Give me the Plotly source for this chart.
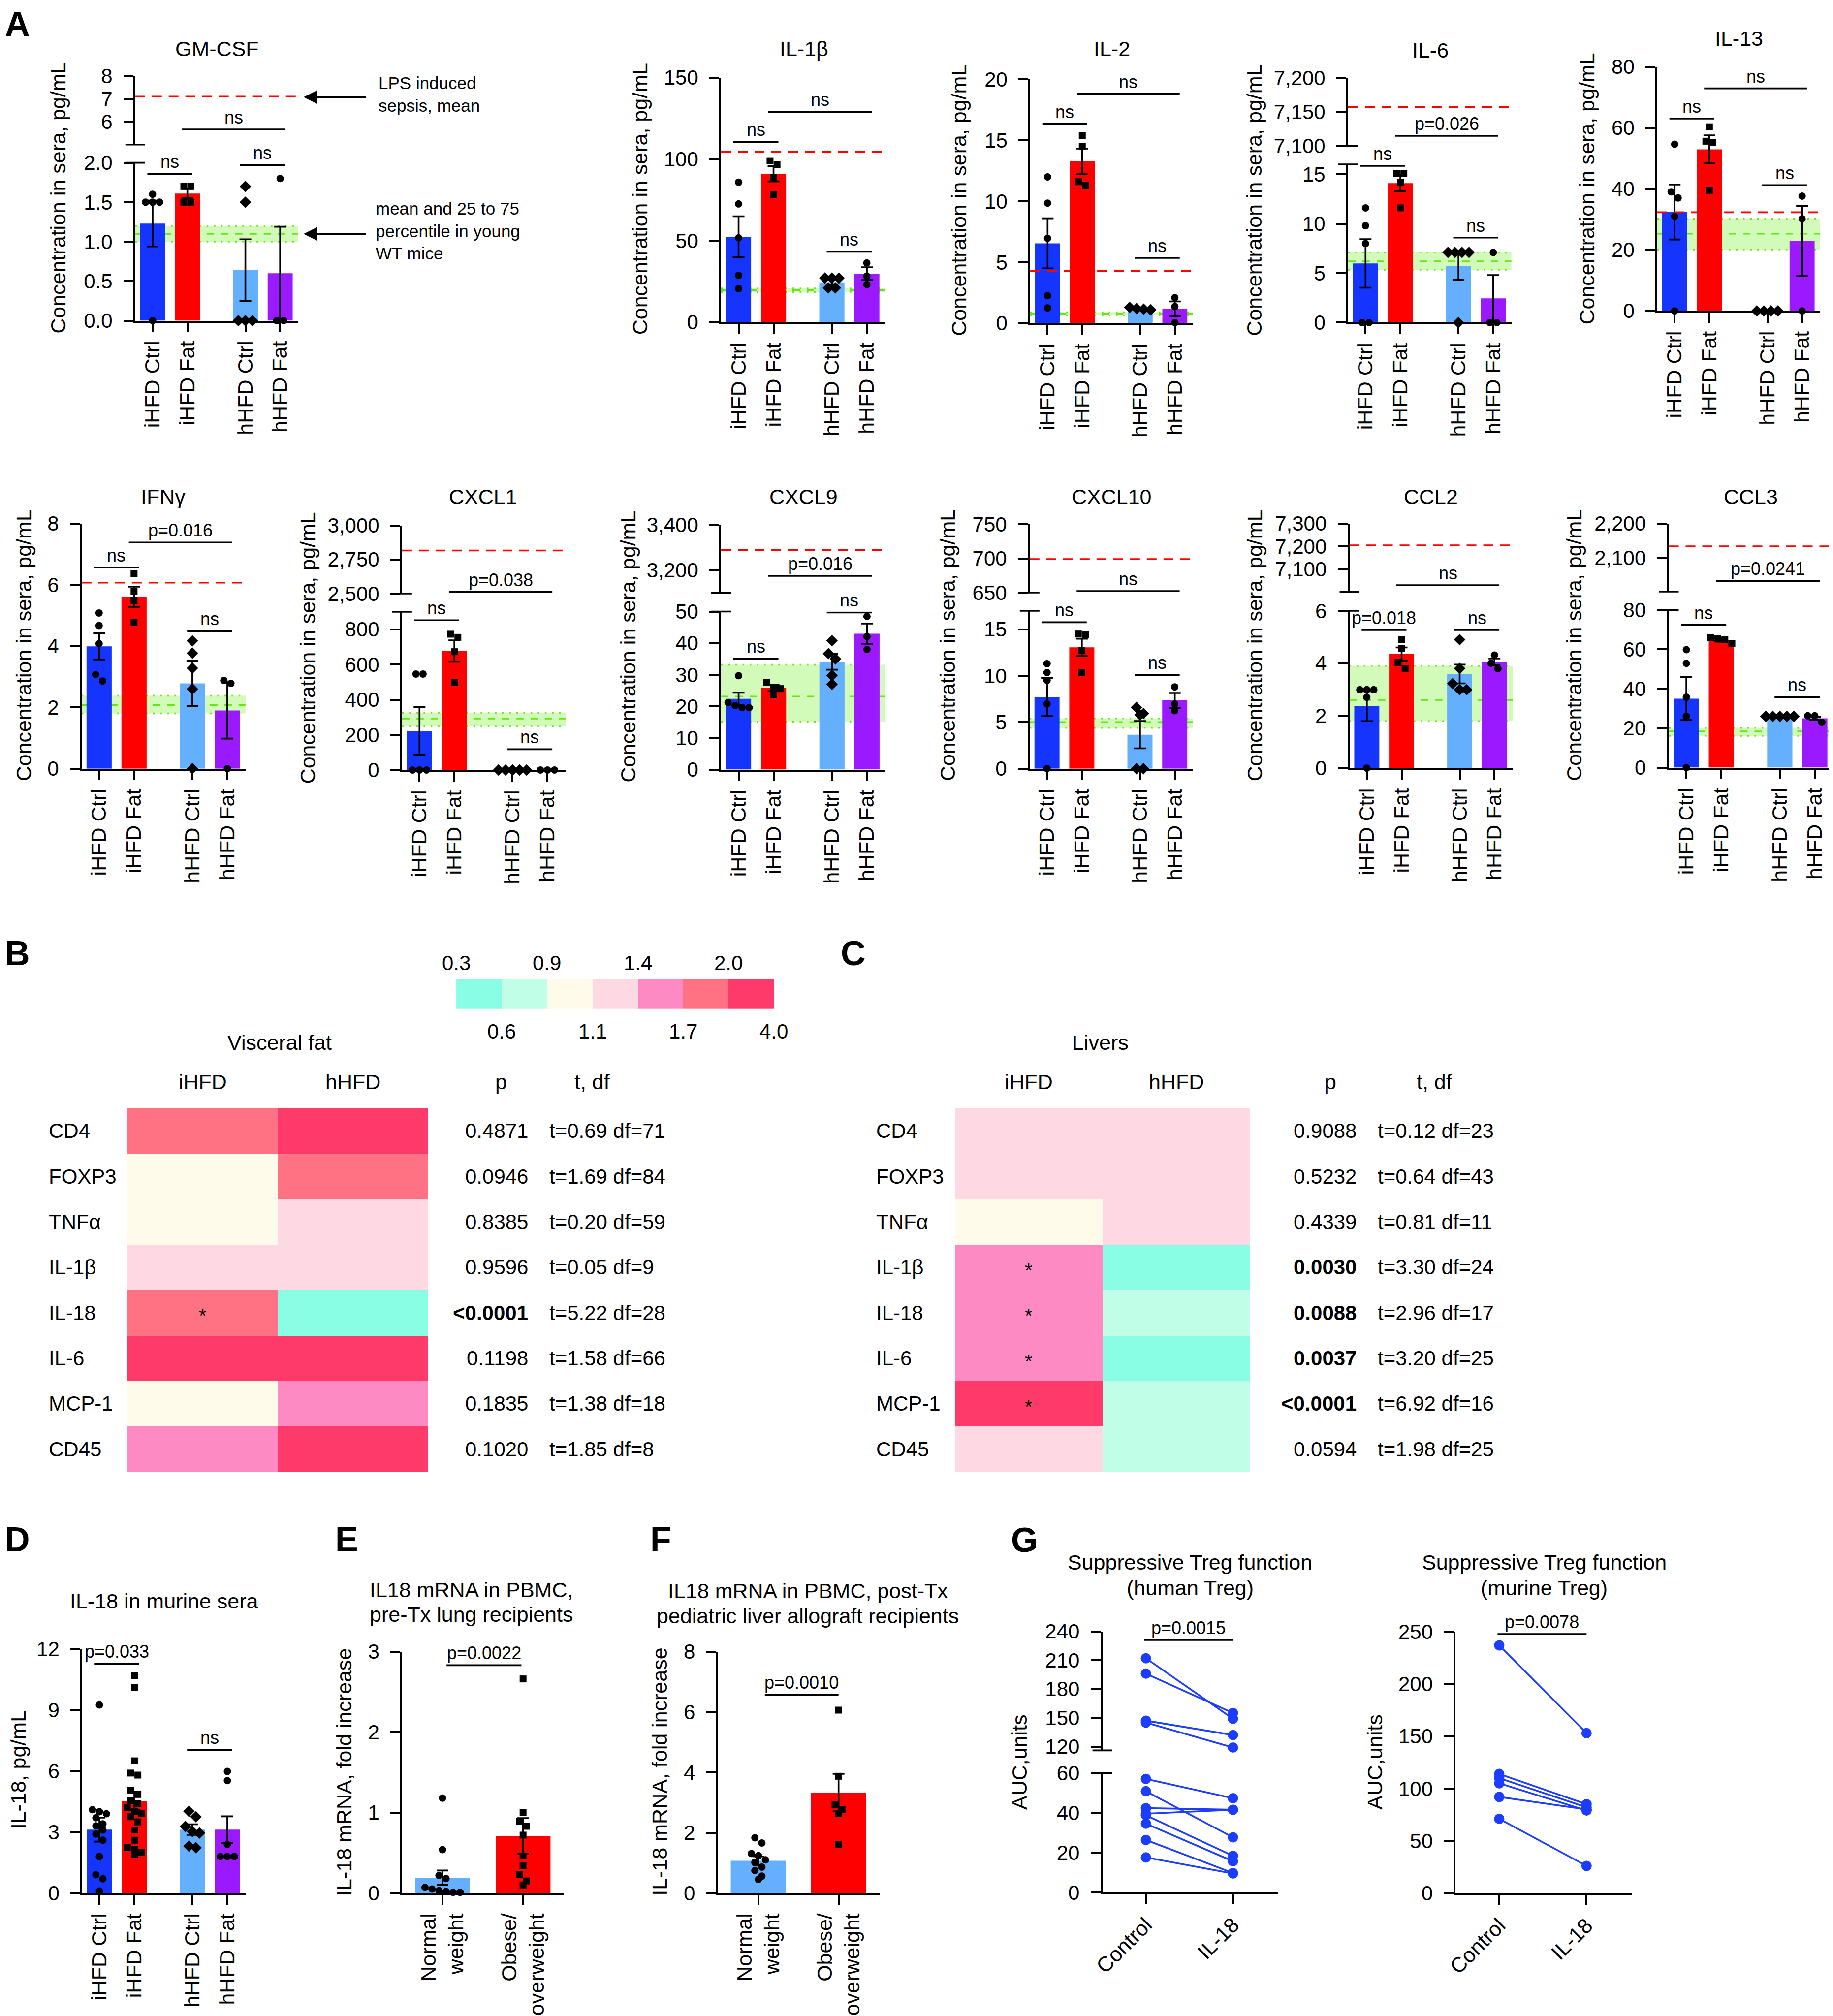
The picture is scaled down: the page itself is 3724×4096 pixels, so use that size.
import plotly.graph_objects as go

W, H = 3724, 4096
RW, RH = 1426.0, 1568.0          # reference preview coordinate system
S = W / RW
OFF = 8.0                         # page body margin compensation (px)
FONT = "Liberation Sans, Arial, Helvetica, sans-serif"
BLACK = "#000000"
LW = 3.6

# ======================= DATA =======================
GROUP_LABELS = ["iHFD Ctrl", "iHFD Fat", "hHFD Ctrl", "hHFD Fat"]
GROUP_POS = [0.0, 1.0, 2.67, 3.67]
GROUP_COLORS = ["#1535fe", "#fe0000", "#64affe", "#9b19fe"]
GROUP_SYMBOLS = ["circle", "square", "diamond", "circle"]

GMCSF_MEAN = [1.23, 1.61, 0.64, 0.60]
GMCSF_SEM = [0.29, 0.06, 0.39, 0.59]
GMCSF_PTS = [[1.6, 1.5, 1.5, 1.5, 0.0], [1.7, 1.7, 1.5, 1.5], [1.7, 1.5, 0.0, 0.0, 0.0], [1.8, 0.0, 0.0]]
GMCSF_SEPSIS = 7.1
GMCSF_YOUNG = [1.0, 1.1, 1.2]
GMCSF_SIG = [(0, 1, 1.86, "ns", "lo"), (2, 3, 1.97, "ns", "lo"), (1, 3, 5.66, "ns", "up")]
GMCSF_LO_TICKS = [0, 0.5, 1.0, 1.5, 2.0]
GMCSF_LO_LABELS = ["0.0", "0.5", "1.0", "1.5", "2.0"]
GMCSF_UP_TICKS = [6, 7, 8]
GMCSF_UP_LABELS = ["6", "7", "8"]

IL1B_MEAN = [52.4, 91.0, 24.4, 29.7]
IL1B_SEM = [12.5, 4.7, 1.8, 3.9]
IL1B_PTS = [[85.8, 72.5, 51.7, 28.7, 20.5], [99.0, 96.6, 88.9, 78.2], [27.0, 27.0, 27.0, 21.0, 21.0], [36.3, 28.2, 23.0]]
IL1B_SEPSIS = 104.4
IL1B_YOUNG = [18.3, 19.5, 20.7]
IL1B_SIG = [(0, 1, 110.6, "ns", "lo"), (2, 3, 43.2, "ns", "lo"), (1, 3, 129.0, "ns", "lo")]
IL1B_TICKS = [0, 50, 100, 150]

IL2_MEAN = [6.55, 13.27, 1.19, 1.19]
IL2_SEM = [2.05, 1.05, 0.08, 0.6]
IL2_PTS = [[12.0, 9.85, 6.96, 2.26, 1.25], [15.4, 14.5, 11.6, 11.3], [1.3, 1.2, 1.15, 1.1], [2.1, 1.37, 0.05]]
IL2_SEPSIS = 4.29
IL2_YOUNG = [0.65, 0.78, 0.9]
IL2_SIG = [(0, 1, 16.35, "ns", "lo"), (2, 3, 5.36, "ns", "lo"), (1, 3, 18.8, "ns", "lo")]
IL2_TICKS = [0, 5, 10, 15, 20]

IL6_MEAN = [5.98, 14.1, 5.75, 2.45]
IL6_SEM = [2.45, 0.8, 1.4, 2.35]
IL6_PTS = [[11.6, 9.8, 8.0, 0.0, 0.0], [15.1, 15.1, 14.2, 11.6], [7.1, 7.1, 7.1, 7.1, 0.0], [7.1, 0.0, 0.0]]
IL6_SEPSIS = 7157
IL6_YOUNG = [5.35, 6.2, 7.1]
IL6_SIG = [(0, 1, 15.85, "ns", "lo"), (2, 3, 8.6, "ns", "lo"), (1, 3, 7115, "p=0.026", "up")]
IL6_LO_TICKS = [0, 5, 10, 15]
IL6_UP_TICKS = [7100, 7150, 7200]
IL6_UP_LABELS = ["7,100", "7,150", "7,200"]

IL13_MEAN = [32.4, 52.9, 0.0, 22.9]
IL13_SEM = [9.0, 4.6, 0.0, 11.5]
IL13_PTS = [[54.6, 39.0, 37.0, 31.0, 0.0], [60.3, 55.6, 55.2, 39.5], [0.0, 0.0, 0.0, 0.0], [37.6, 30.2, 0.0]]
IL13_SEPSIS = 32.3
IL13_YOUNG = [20.1, 25.3, 30.2]
IL13_SIG = [(0, 1, 63.0, "ns", "lo"), (2, 3, 41.2, "ns", "lo"), (1, 3, 72.9, "ns", "lo")]
IL13_TICKS = [0, 20, 40, 60, 80]

IFNG_MEAN = [3.99, 5.61, 2.78, 1.90]
IFNG_SEM = [0.43, 0.33, 0.74, 0.92]
IFNG_PTS = [[5.08, 4.67, 4.08, 3.07, 2.86], [6.36, 5.78, 5.49, 4.77], [4.17, 3.77, 3.28, 2.6, 0.0], [2.88, 2.78, 0.0]]
IFNG_SEPSIS = 6.07
IFNG_YOUNG = [1.80, 2.08, 2.38]
IFNG_SIG = [(0, 1, 6.56, "ns", "lo"), (2, 3, 4.49, "ns", "lo"), (1, 3, 7.38, "p=0.016", "lo")]
IFNG_TICKS = [0, 2, 4, 6, 8]

CXCL1_MEAN = [223, 677, 0, 0]
CXCL1_SEM = [135, 61, 0, 0]
CXCL1_PTS = [[546, 546, 0, 0, 0], [773, 755, 673, 499], [0, 0, 0, 0, 0], [0, 0, 0]]
CXCL1_SEPSIS = 2816
CXCL1_YOUNG = [248, 293, 326]
CXCL1_SIG = [(0, 1, 852, "ns", "lo"), (2, 3, 118, "ns", "lo"), (1, 3, 2512, "p=0.038", "up")]
CXCL1_LO_TICKS = [0, 200, 400, 600, 800]
CXCL1_UP_TICKS = [2500, 2750, 3000]
CXCL1_UP_LABELS = ["2,500", "2,750", "3,000"]

CXCL9_MEAN = [22.4, 25.8, 34.1, 43.0]
CXCL9_SEM = [1.9, 1.0, 2.5, 3.2]
CXCL9_PTS = [[29.7, 21.2, 20.3, 19.6, 19.6], [27.6, 25.9, 25.6, 23.7], [40.8, 36.7, 35.0, 29.8, 27.0], [48.5, 42.1, 38.0]]
CXCL9_SEPSIS = 3288
CXCL9_YOUNG = [15.1, 23.1, 33.2]
CXCL9_SIG = [(0, 1, 35.1, "ns", "lo"), (2, 3, 49.7, "ns", "lo"), (1, 3, 3175, "p=0.016", "up")]
CXCL9_LO_TICKS = [0, 10, 20, 30, 40, 50]
CXCL9_UP_TICKS = [3200, 3400]
CXCL9_UP_LABELS = ["3,200", "3,400"]

CXCL10_MEAN = [7.7, 13.06, 3.65, 7.35]
CXCL10_SEM = [2.05, 0.94, 1.47, 0.8]
CXCL10_PTS = [[11.3, 10.35, 9.5, 6.97, 0.0], [14.5, 14.4, 12.7, 10.35], [6.6, 5.94, 5.8, 0.0, 0.0], [8.8, 6.97, 6.24]]
CXCL10_SEPSIS = 699
CXCL10_YOUNG = [4.4, 5.0, 5.4]
CXCL10_SIG = [(0, 1, 15.76, "ns", "lo"), (2, 3, 10.1, "ns", "lo"), (1, 3, 652, "ns", "up")]
CXCL10_LO_TICKS = [0, 5, 10, 15]
CXCL10_UP_TICKS = [650, 700, 750]
CXCL10_UP_LABELS = ["650", "700", "750"]

CCL2_MEAN = [2.36, 4.35, 3.59, 4.05]
CCL2_SEM = [0.57, 0.25, 0.36, 0.13]
CCL2_PTS = [[2.99, 2.99, 2.99, 2.7, 0.0], [4.9, 4.57, 4.03, 3.79], [4.9, 3.8, 3.22, 2.99, 2.99], [4.31, 4.0, 3.79]]
CCL2_SEPSIS = 7204
CCL2_YOUNG = [1.79, 2.6, 3.9]
CCL2_SIG = [(0, 1, 5.27, "p=0.018", "lo"), (2, 3, 5.27, "ns", "lo"), (1, 3, 7029, "ns", "up")]
CCL2_LO_TICKS = [0, 2, 4, 6]
CCL2_UP_TICKS = [7100, 7200, 7300]
CCL2_UP_LABELS = ["7,100", "7,200", "7,300"]

CCL3_MEAN = [35.0, 64.8, 26.0, 25.0]
CCL3_SEM = [10.9, 0.9, 0.1, 0.8]
CCL3_PTS = [[59.8, 52.9, 35.7, 26.0, 0.0], [66.0, 65.5, 65.0, 63.0], [26, 26, 26, 26, 26], [26.3, 26.3, 23.0]]
CCL3_SEPSIS = 2133
CCL3_YOUNG = [16.1, 18.4, 20.2]
CCL3_SIG = [(0, 1, 72.4, "ns", "lo"), (2, 3, 35.8, "ns", "lo"), (1, 3, 2031.7, "p=0.0241", "up")]
CCL3_LO_TICKS = [0, 20, 40, 60, 80]
CCL3_UP_TICKS = [2100, 2200]
CCL3_UP_LABELS = ["2,100", "2,200"]

# Panel B / C heatmaps (fold change)
HEAT_ROWS = ["CD4", "FOXP3", "TNFα", "IL-1β", "IL-18", "IL-6", "MCP-1", "CD45"]
HEAT_COLS = ["iHFD", "hHFD"]
FAT_IHFD = [1.85, 1.0, 1.0, 1.25, 1.85, 2.5, 1.0, 1.55]
FAT_HHFD = [2.5, 1.85, 1.25, 1.25, 0.5, 2.5, 1.55, 2.5]
FAT_P = ["0.4871", "0.0946", "0.8385", "0.9596", "<0.0001", "0.1198", "0.1835", "0.1020"]
FAT_T = ["t=0.69 df=71", "t=1.69 df=84", "t=0.20 df=59", "t=0.05 df=9", "t=5.22 df=28",
         "t=1.58 df=66", "t=1.38 df=18", "t=1.85 df=8"]
LIVER_IHFD = [1.25, 1.25, 1.0, 1.55, 1.55, 1.55, 2.5, 1.25]
LIVER_HHFD = [1.25, 1.25, 1.25, 0.5, 0.75, 0.5, 0.75, 0.75]
LIVER_P = ["0.9088", "0.5232", "0.4339", "0.0030", "0.0088", "0.0037", "<0.0001", "0.0594"]
LIVER_T = ["t=0.12 df=23", "t=0.64 df=43", "t=0.81 df=11", "t=3.30 df=24", "t=2.96 df=17",
           "t=3.20 df=25", "t=6.92 df=16", "t=1.98 df=25"]
BIN_EDGES = [0.3, 0.6, 0.9, 1.1, 1.4, 1.7, 2.0, 4.0]
BIN_COLORS = ["#8afde5", "#c0fee8", "#fefbea", "#fed8e2", "#fe8ac3", "#fe7283", "#fe3a6a"]
LEGEND_VALUES = [0.45, 0.75, 1.0, 1.25, 1.55, 1.85, 3.0]
LEGEND_TOP = ["0.3", "0.9", "1.4", "2.0"]
LEGEND_BOTTOM = ["0.6", "1.1", "1.7", "4.0"]

# Panel D
D_MEAN = [3.12, 4.53, 3.12, 3.12]
D_SEM = [0.59, 0.44, 0.26, 0.65]
D_PTS = [[9.25, 4.1, 4.0, 3.9, 3.7, 3.4, 3.3, 3.1, 2.9, 2.6, 1.8, 0.9, 0.7, 0.1],
         [10.7, 10.1, 6.5, 5.9, 5.8, 5.05, 4.85, 4.55, 4.4, 4.2, 4.0, 3.9, 3.75, 3.5, 3.1, 2.6, 2.25, 2.15, 2.0, 1.9],
         [4.02, 3.75, 3.27, 3.03, 2.95, 2.31, 2.23],
         [5.98, 5.53, 2.39, 1.8, 1.8, 1.8]]
D_SIG = [(0, 1, 11.27, "p=0.033", "lo"), (2, 3, 7.04, "ns", "lo")]
D_TICKS = [0, 3, 6, 9, 12]

# Panels E / F
EF_LABELS = ["Normal<br>weight", "Obese/<br>overweight"]
E_MEAN = [0.19, 0.71]
E_SEM = [0.09, 0.22]
E_PTS = [[1.18, 0.54, 0.22, 0.18, 0.07, 0.05, 0.03, 0.02, 0.01, 0.01],
         [2.66, 1.0, 0.89, 0.83, 0.72, 0.46, 0.34, 0.23, 0.15, 0.1]]
E_SIG = [(0, 1, 2.83, "p=0.0022", "lo")]
E_TICKS = [0, 1, 2, 3]
F_MEAN = [1.07, 3.33]
F_SEM = [0.145, 0.62]
F_PTS = [[1.83, 1.66, 1.31, 1.24, 1.1, 1.02, 0.86, 0.75, 0.56, 0.45],
         [6.06, 3.87, 2.92, 2.76, 2.63, 1.61]]
F_SIG = [(0, 1, 6.57, "p=0.0010", "lo")]
F_TICKS = [0, 2, 4, 6, 8]

# Panel G
G_LABELS = ["Control", "IL-18"]
GH_CTRL = [212, 196, 147, 145, 57.1, 50.9, 42.4, 39.6, 38.8, 34.6, 26.4, 17.6]
GH_IL18 = [149, 155, 132, 119, 47.4, 27.7, 41.6, 41.6, 18.4, 15.7, 9.8, 9.5]
GH_UP_TICKS = [120, 150, 180, 210, 240]
GH_LO_TICKS = [0, 20, 40, 60]
GM_CTRL = [237, 114, 110, 105, 92, 71]
GM_IL18 = [153, 85, 82, 79, 80, 26]
GM_TICKS = [0, 50, 100, 150, 200, 250]

# ======================= BUILDING =======================
traces, shapes, annotations = [], [], []
layout_axes = {}
cnt = {"x": 0, "y": 0}


def new_axis(kind):
    cnt[kind] += 1
    n = cnt[kind]
    return kind + ("" if n == 1 else str(n)), kind + "axis" + ("" if n == 1 else str(n))


def px(x):
    return min(1.0, max(0.0, (x * S - OFF) / W))


def py(y):
    return min(1.0, max(0.0, 1 - (y * S - OFF) / H))


def axis_style(**kw):
    d = dict(showline=True, linecolor=BLACK, linewidth=LW, ticks="outside", ticklen=20,
             tickwidth=LW, tickcolor=BLACK, showgrid=False, zeroline=False, automargin=False,
             tickfont=dict(family=FONT, size=42, color=BLACK), fixedrange=True)
    d.update(kw)
    return d


def yaxis_style(**kw):
    return axis_style(ticklabelstandoff=14, **kw)


def text(x, y, s, size=43, angle=0, xanchor="center", yanchor="middle", align="center"):
    annotations.append(dict(xref="paper", yref="paper", x=px(x), y=py(y), text=s, showarrow=False,
                            textangle=angle, xanchor=xanchor, yanchor=yanchor, align=align,
                            font=dict(family=FONT, size=size, color=BLACK)))


def swarm(vals, center, xpx, ypx, d):
    rows = []
    for v in sorted(vals, reverse=True):
        if rows and abs(rows[-1][0] - v) * ypx < 0.9 * d:
            rows[-1].append(v)
        else:
            rows.append([v])
    xs, ys = [], []
    for r in rows:
        n = len(r)
        for k, v in enumerate(r):
            xs.append(center + (k - (n - 1) / 2) * 0.95 * d / xpx)
            ys.append(v)
    return xs, ys


def break_marks(x0, ys):
    tl = 20 / W
    for yy in ys:
        shapes.append(dict(type="line", xref="paper", yref="paper", x0=px(x0) - tl, x1=px(x0) + tl,
                           y0=py(yy), y1=py(yy), line=dict(color=BLACK, width=LW)))


def bar_panel(xbox, lo_box, lo_range, lo_ticks, lo_labels, means, sems, pts, pos, labels,
              colors, symbols, up_box=None, up_range=None, up_ticks=None, up_labels=None,
              sepsis=None, young=None, sigs=(), sig_pad=(0.15, 0.14), bar_w=0.72,
              xrange=(-0.5, 4.19), msize=15):
    xr, xk = new_axis("x")
    ylr, ylk = new_axis("y")
    layout_axes[xk] = axis_style(domain=[px(xbox[0]), px(xbox[1])], range=list(xrange), anchor=ylr,
                                 tickmode="array", tickvals=pos, ticktext=labels, tickangle=-90,
                                 tickfont=dict(family=FONT, size=43, color=BLACK))
    layout_axes[ylk] = yaxis_style(domain=[py(lo_box[1]), py(lo_box[0])], range=list(lo_range),
                                   anchor=xr, tickmode="array", tickvals=lo_ticks,
                                   ticktext=lo_labels if lo_labels else [str(t) for t in lo_ticks])
    seg = {"lo": ylr}
    if up_box is not None:
        yur, yuk = new_axis("y")
        layout_axes[yuk] = yaxis_style(domain=[py(up_box[1]), py(up_box[0])], range=list(up_range),
                                       anchor=xr, tickmode="array", tickvals=up_ticks, ticktext=up_labels)
        seg["up"] = yur
        traces.append(go.Scatter(x=[pos[0]], y=[up_range[0]], xaxis=xr, yaxis=yur, mode="markers",
                                 marker=dict(opacity=0), hoverinfo="skip", showlegend=False))
        break_marks(xbox[0], [up_box[1], lo_box[0]])
    traces.append(go.Bar(x=pos, y=means, width=bar_w, xaxis=xr, yaxis=ylr, showlegend=False,
                         marker=dict(color=colors, line=dict(width=0)), hoverinfo="skip",
                         error_y=dict(type="data", array=sems, visible=True, color=BLACK,
                                      thickness=LW, width=12)))
    xpx = (xbox[1] - xbox[0]) * S / (xrange[1] - xrange[0])
    ypx = (lo_box[1] - lo_box[0]) * S / (lo_range[1] - lo_range[0])
    for i, vals in enumerate(pts):
        sz = msize + 3 if symbols[i] == "diamond" else (msize - 1 if symbols[i] == "square" else msize)
        xs, ys = swarm(vals, pos[i], xpx, ypx, msize)
        traces.append(go.Scatter(x=xs, y=ys, xaxis=xr, yaxis=ylr, mode="markers", cliponaxis=False,
                                 marker=dict(symbol=symbols[i], size=sz, color=BLACK, line=dict(width=0)),
                                 hoverinfo="skip", showlegend=False))
    if young is not None:
        dom = f"{xr} domain"
        shapes.append(dict(type="rect", xref=dom, x0=0, x1=1, yref=ylr, y0=young[0], y1=young[2],
                           fillcolor="#d2fab9", line=dict(width=0), layer="below"))
        for v in (young[0], young[2]):
            shapes.append(dict(type="line", xref=dom, x0=0, x1=1, yref=ylr, y0=v, y1=v, layer="below",
                               line=dict(color="#6ee61e", width=3.5, dash="3.5px,11px")))
        shapes.append(dict(type="line", xref=dom, x0=0, x1=1, yref=ylr, y0=young[1], y1=young[1],
                           layer="below", line=dict(color="#66e614", width=3.5, dash="15px,14px")))
    if sepsis is not None:
        yref = seg["up"] if (up_box is not None and sepsis >= up_range[0]) else ylr
        shapes.append(dict(type="line", xref=f"{xr} domain", x0=0, x1=1, yref=yref, y0=sepsis,
                           y1=sepsis, layer="above", line=dict(color="#ff0000", width=LW, dash="20px,14px")))
    for (i, j, yv, txt, sg) in sigs:
        x0 = pos[i] - sig_pad[0]
        x1 = pos[j] + sig_pad[1]
        shapes.append(dict(type="line", xref=xr, yref=seg[sg], x0=x0, x1=x1, y0=yv, y1=yv,
                           line=dict(color=BLACK, width=LW)))
        annotations.append(dict(xref=xr, yref=seg[sg], x=(x0 + x1) / 2, y=yv, text=txt, showarrow=False,
                                yanchor="bottom", yshift=2, font=dict(family=FONT, size=36, color=BLACK)))
    return xr


# ---------------- Panel A, row 1 ----------------
bar_panel((105.2, 232.0), (126.6, 249.5), (0, 2), GMCSF_LO_TICKS, GMCSF_LO_LABELS, GMCSF_MEAN, GMCSF_SEM,
          GMCSF_PTS, GROUP_POS, GROUP_LABELS, GROUP_COLORS, GROUP_SYMBOLS,
          up_box=(59.1, 112.5), up_range=(5, 8), up_ticks=GMCSF_UP_TICKS, up_labels=GMCSF_UP_LABELS,
          sepsis=GMCSF_SEPSIS, young=GMCSF_YOUNG, sigs=GMCSF_SIG)
text(169, 38, "GM-CSF")
text(45.4, 154, "Concentration in sera, pg/mL", angle=-90)

bar_panel((561, 688.5), (60.4, 250.6), (0, 150), IL1B_TICKS, None, IL1B_MEAN, IL1B_SEM, IL1B_PTS,
          GROUP_POS, GROUP_LABELS, GROUP_COLORS, GROUP_SYMBOLS, sepsis=IL1B_SEPSIS, young=IL1B_YOUNG,
          sigs=IL1B_SIG)
text(625.5, 38, "IL-1β")
text(497.9, 154.7, "Concentration in sera, pg/mL", angle=-90)

bar_panel((801.5, 928), (61.7, 251.5), (0, 20), IL2_TICKS, None, IL2_MEAN, IL2_SEM, IL2_PTS,
          GROUP_POS, GROUP_LABELS, GROUP_COLORS, GROUP_SYMBOLS, sepsis=IL2_SEPSIS, young=IL2_YOUNG,
          sigs=IL2_SIG)
text(865, 38, "IL-2")
text(745.9, 155.8, "Concentration in sera, pg/mL", angle=-90)

bar_panel((1048.8, 1175.8), (127.9, 251), (0, 16), IL6_LO_TICKS, None, IL6_MEAN, IL6_SEM, IL6_PTS,
          GROUP_POS, GROUP_LABELS, GROUP_COLORS, GROUP_SYMBOLS,
          up_box=(60.6, 113.6), up_range=(7100, 7200), up_ticks=IL6_UP_TICKS, up_labels=IL6_UP_LABELS,
          sepsis=IL6_SEPSIS, young=IL6_YOUNG, sigs=IL6_SIG)
text(1112.6, 39, "IL-6")
text(975.6, 155.8, "Concentration in sera, pg/mL", angle=-90)

bar_panel((1289.3, 1416), (51.9, 241.9), (0, 80), IL13_TICKS, None, IL13_MEAN, IL13_SEM, IL13_PTS,
          GROUP_POS, GROUP_LABELS, GROUP_COLORS, GROUP_SYMBOLS, sepsis=IL13_SEPSIS, young=IL13_YOUNG,
          sigs=IL13_SIG)
text(1353, 30, "IL-13")
text(1234.4, 147, "Concentration in sera, pg/mL", angle=-90)

# GM-CSF explanatory arrows
for yy in (75.5, 182):
    annotations.append(dict(xref="paper", yref="paper", x=px(236.2), y=py(yy), text="", showarrow=True,
                            ax=(285.2 - 236.2) * S, ay=0, arrowhead=2, arrowsize=1.4, arrowwidth=4,
                            arrowcolor=BLACK, standoff=0))
text(293.8, 73.5, "LPS induced<br>sepsis, mean", size=35, xanchor="left", align="left")
text(291.4, 179.5, "mean and 25 to 75<br>percentile in young<br>WT mice", size=35, xanchor="left", align="left")

# ---------------- Panel A, row 2 ----------------
bar_panel((63.5, 191), (407.3, 598), (0, 8), IFNG_TICKS, None, IFNG_MEAN, IFNG_SEM, IFNG_PTS,
          GROUP_POS, GROUP_LABELS, GROUP_COLORS, GROUP_SYMBOLS, sepsis=IFNG_SEPSIS, young=IFNG_YOUNG,
          sigs=IFNG_SIG)
text(127, 386.5, "IFNγ")
text(18.4, 502.1, "Concentration in sera, pg/mL", angle=-90)

bar_panel((312.8, 440), (476, 599.1), (0, 900), CXCL1_LO_TICKS, None, CXCL1_MEAN, CXCL1_SEM, CXCL1_PTS,
          GROUP_POS, GROUP_LABELS, GROUP_COLORS, GROUP_SYMBOLS,
          up_box=(408.8, 461.8), up_range=(2500, 3000), up_ticks=CXCL1_UP_TICKS, up_labels=CXCL1_UP_LABELS,
          sepsis=CXCL1_SEPSIS, young=CXCL1_YOUNG, sigs=CXCL1_SIG)
text(375.7, 386.5, "CXCL1")
text(239.2, 504.2, "Concentration in sera, pg/mL", angle=-90)

bar_panel((561, 688.6), (475.8, 598.7), (0, 50), CXCL9_LO_TICKS, None, CXCL9_MEAN, CXCL9_SEM, CXCL9_PTS,
          GROUP_POS, GROUP_LABELS, GROUP_COLORS, GROUP_SYMBOLS,
          up_box=(408.3, 461.2), up_range=(3100, 3400), up_ticks=CXCL9_UP_TICKS, up_labels=CXCL9_UP_LABELS,
          sepsis=CXCL9_SEPSIS, young=CXCL9_YOUNG, sigs=CXCL9_SIG)
text(625, 386.5, "CXCL9")
text(488.5, 503.2, "Concentration in sera, pg/mL", angle=-90)

bar_panel((801, 928), (475.2, 598), (0, 17), CXCL10_LO_TICKS, None, CXCL10_MEAN, CXCL10_SEM, CXCL10_PTS,
          GROUP_POS, GROUP_LABELS, GROUP_COLORS, GROUP_SYMBOLS,
          up_box=(407.9, 461), up_range=(650, 750), up_ticks=CXCL10_UP_TICKS, up_labels=CXCL10_UP_LABELS,
          sepsis=CXCL10_SEPSIS, young=CXCL10_YOUNG, sigs=CXCL10_SIG)
text(865, 386.5, "CXCL10")
text(737.4, 502.1, "Concentration in sera, pg/mL", angle=-90)

bar_panel((1049.8, 1176.7), (475.2, 597.6), (0, 6), CCL2_LO_TICKS, None, CCL2_MEAN, CCL2_SEM, CCL2_PTS,
          GROUP_POS, GROUP_LABELS, GROUP_COLORS, GROUP_SYMBOLS,
          up_box=(407.3, 460.5), up_range=(7000, 7300), up_ticks=CCL2_UP_TICKS, up_labels=CCL2_UP_LABELS,
          sepsis=CCL2_SEPSIS, young=CCL2_YOUNG, sigs=CCL2_SIG)
text(1113, 386.5, "CCL2")
text(976.2, 502.1, "Concentration in sera, pg/mL", angle=-90)

bar_panel((1298.3, 1426), (474.5, 597.2), (0, 80), CCL3_LO_TICKS, None, CCL3_MEAN, CCL3_SEM, CCL3_PTS,
          GROUP_POS, GROUP_LABELS, GROUP_COLORS, GROUP_SYMBOLS,
          up_box=(407.3, 460.3), up_range=(2000, 2200), up_ticks=CCL3_UP_TICKS, up_labels=CCL3_UP_LABELS,
          sepsis=CCL3_SEPSIS, young=CCL3_YOUNG, sigs=CCL3_SIG)
text(1362, 386.5, "CCL3")
text(1224.8, 502.1, "Concentration in sera, pg/mL", angle=-90)

# ---------------- Panels B / C heatmaps ----------------
CSCALE = []
for k, c in enumerate(BIN_COLORS):
    a = (BIN_EDGES[k] - BIN_EDGES[0]) / (BIN_EDGES[-1] - BIN_EDGES[0])
    b = (BIN_EDGES[k + 1] - BIN_EDGES[0]) / (BIN_EDGES[-1] - BIN_EDGES[0])
    CSCALE += [[a, c], [b, c]]


def heat_panel(xbox, ybox, zi, zh, pvals, tstrs, rowlab_x, p_x, t_x, title, title_x, p_head_x, t_head_x):
    xr, xk = new_axis("x")
    yr, yk = new_axis("y")
    layout_axes[xk] = dict(domain=[px(xbox[0]), px(xbox[1])], range=[-0.5, 1.5], visible=False,
                           anchor=yr, fixedrange=True, automargin=False)
    layout_axes[yk] = dict(domain=[py(ybox[1]), py(ybox[0])], range=[7.5, -0.5], visible=False,
                           anchor=xr, fixedrange=True, automargin=False)
    z = [[a, b] for a, b in zip(zi, zh)]
    traces.append(go.Heatmap(z=z, x=[0, 1], y=list(range(len(HEAT_ROWS))), colorscale=CSCALE,
                             zmin=BIN_EDGES[0], zmax=BIN_EDGES[-1], showscale=False, xaxis=xr, yaxis=yr,
                             hoverinfo="skip"))
    f = dict(family=FONT, size=42, color=BLACK)
    for i, name in enumerate(HEAT_ROWS):
        annotations.append(dict(xref="paper", yref=yr, x=px(rowlab_x), y=i, text=name, showarrow=False,
                                xanchor="left", font=f))
        sig = float(pvals[i].replace("<", "")) < 0.05
        ptxt = pvals[i].replace("<", "&lt;")
        annotations.append(dict(xref="paper", yref=yr, x=px(p_x), y=i, text=("<b>%s</b>" % ptxt) if sig else ptxt,
                                showarrow=False, xanchor="right", font=f))
        annotations.append(dict(xref="paper", yref=yr, x=px(t_x), y=i, text=tstrs[i], showarrow=False,
                                xanchor="left", font=f))
        if sig:
            annotations.append(dict(xref=xr, yref=yr, x=0, y=i, text="*", showarrow=False, yshift=-6,
                                    font=dict(family=FONT, size=40, color=BLACK)))
    for j, c in enumerate(HEAT_COLS):
        annotations.append(dict(xref=xr, yref="paper", x=j, y=py(841.5), text=c, showarrow=False,
                                font=dict(family=FONT, size=43, color=BLACK)))
    text(title_x, 811, title)
    text(p_head_x, 841.5, "p")
    text(t_head_x, 841.5, "t, df")


heat_panel((99.1, 333.1), (862.2, 1145.1), FAT_IHFD, FAT_HHFD, FAT_P, FAT_T, 37, 411.7, 426.4,
           "Visceral fat", 217.6, 390, 461)
heat_panel((742.8, 972.7), (862.2, 1145.1), LIVER_IHFD, LIVER_HHFD, LIVER_P, LIVER_T, 680.8, 1056, 1071,
           "Livers", 856.2, 1035.2, 1116)

# colour key
xr, xk = new_axis("x")
yr, yk = new_axis("y")
layout_axes[xk] = dict(domain=[px(355), px(602)], range=[-0.5, 6.5], visible=False, anchor=yr,
                       fixedrange=True, automargin=False)
layout_axes[yk] = dict(domain=[py(784.9), py(761.6)], range=[-0.5, 0.5], visible=False, anchor=xr,
                       fixedrange=True, automargin=False)
traces.append(go.Heatmap(z=[LEGEND_VALUES], x=list(range(len(LEGEND_VALUES))), y=[0], colorscale=CSCALE,
                         zmin=BIN_EDGES[0], zmax=BIN_EDGES[-1], showscale=False, xaxis=xr, yaxis=yr,
                         hoverinfo="skip"))
for k, lab in enumerate(LEGEND_TOP):
    annotations.append(dict(xref=xr, yref="paper", x=-0.5 + 2 * k, y=py(749), text=lab, showarrow=False,
                            font=dict(family=FONT, size=42, color=BLACK)))
for k, lab in enumerate(LEGEND_BOTTOM):
    annotations.append(dict(xref=xr, yref="paper", x=0.5 + 2 * k, y=py(802.6), text=lab, showarrow=False,
                            font=dict(family=FONT, size=42, color=BLACK)))

# ---------------- Panel D ----------------
bar_panel((64, 191.3), (1282.9, 1472.8), (0, 12), D_TICKS, None, D_MEAN, D_SEM, D_PTS,
          [0.0, 1.0, 2.66, 3.66], GROUP_LABELS, GROUP_COLORS, GROUP_SYMBOLS, sigs=D_SIG,
          xrange=(-0.49, 4.19), msize=15)
text(127.6, 1245.8, "IL-18 in murine sera")
text(14.0, 1376.9, "IL-18, pg/mL", angle=-90)

# ---------------- Panels E / F ----------------
bar_panel((312.9, 438.9), (1284.9, 1472.8), (0, 3), E_TICKS, None, E_MEAN, E_SEM, E_PTS, [0.0, 1.0],
          EF_LABELS, [GROUP_COLORS[2], GROUP_COLORS[1]], ["circle", "square"], sigs=E_SIG,
          sig_pad=(-0.05, -0.02), bar_w=0.68, xrange=(-0.5, 1.51), msize=15)
text(366.5, 1237, "IL18 mRNA in PBMC,")
text(366.5, 1255.8, "pre-Tx lung recipients")
text(267.8, 1378.7, "IL-18 mRNA, fold increase", angle=-90)

bar_panel((558.5, 684.5), (1284.9, 1472.8), (0, 8), F_TICKS, None, F_MEAN, F_SEM, F_PTS, [0.0, 1.0],
          EF_LABELS, [GROUP_COLORS[2], GROUP_COLORS[1]], ["circle", "square"], sigs=F_SIG,
          sig_pad=(-0.08, 0.0), bar_w=0.69, xrange=(-0.505, 1.515), msize=15)
text(628.5, 1237.7, "IL18 mRNA in PBMC, post-Tx")
text(628.5, 1257, "pediatric liver allograft recipients")
text(513.3, 1378.2, "IL-18 mRNA, fold increase", angle=-90)

# ---------------- Panel G ----------------
GBLUE = "#1c3cff"


def pair_panel(xbox, segs, ctrl, il18, sig_y, sig_txt, split=None):
    xr, xk = new_axis("x")
    refs = []
    for (box, rng, ticks) in segs:
        yr, yk = new_axis("y")
        layout_axes[yk] = yaxis_style(domain=[py(box[1]), py(box[0])], range=list(rng), anchor=xr,
                                      tickmode="array", tickvals=ticks, ticktext=[str(t) for t in ticks])
        refs.append(yr)
    layout_axes[xk] = axis_style(domain=[px(xbox[0]), px(xbox[1])], range=[-0.5, 1.52], anchor=refs[0],
                                 tickmode="array", tickvals=[0, 1], ticktext=G_LABELS, tickangle=-45,
                                 tickfont=dict(family=FONT, size=43, color=BLACK))
    for c, t in zip(ctrl, il18):
        yr = refs[1] if (split is not None and c > split) else refs[0]
        traces.append(go.Scatter(x=[0, 1], y=[c, t], xaxis=xr, yaxis=yr, mode="lines+markers",
                                 cliponaxis=False, line=dict(color=GBLUE, width=LW),
                                 marker=dict(color=GBLUE, size=21), hoverinfo="skip", showlegend=False))
    yr = refs[-1]
    shapes.append(dict(type="line", xref=xr, yref=yr, x0=-0.02, x1=1.0, y0=sig_y, y1=sig_y,
                       line=dict(color=BLACK, width=LW)))
    annotations.append(dict(xref=xr, yref=yr, x=0.49, y=sig_y, text=sig_txt, showarrow=False, yanchor="bottom",
                            yshift=2, font=dict(family=FONT, size=36, color=BLACK)))


pair_panel((857.6, 994.4), [((1379.5, 1472.3), (0, 60), GH_LO_TICKS), ((1269.2, 1361.8), (116, 240), GH_UP_TICKS)],
           GH_CTRL, GH_IL18, 231, "p=0.0015", split=100)
break_marks(857.6, [1361.8, 1379.5])
text(925.8, 1215.5, "Suppressive Treg function")
text(925.8, 1235.2, "(human Treg)")
text(792.8, 1370.7, "AUC,units", angle=-90)

pair_panel((1132.4, 1269.6), [((1269.5, 1472.8), (0, 250), GM_TICKS)], GM_CTRL, GM_IL18, 247.8, "p=0.0078")
text(1201.4, 1215.5, "Suppressive Treg function")
text(1201.4, 1235.2, "(murine Treg)")
text(1069.2, 1370.7, "AUC,units", angle=-90)

# ---------------- panel letters ----------------
annotations.append(dict(xref="paper", yref="paper", x=0.0, y=1.0, text="<b>A</b>", showarrow=False,
                        xanchor="left", yanchor="top", font=dict(family=FONT, size=70, color=BLACK)))
for (lx, ly, L) in [(2, 741.6, "B"), (653.3, 741.6, "C"), (1.6, 1197.9, "D"),
                    (260, 1197.9, "E"), (505, 1197.9, "F"), (785.7, 1198, "G")]:
    annotations.append(dict(xref="paper", yref="paper", x=px(lx), y=py(ly), text="<b>%s</b>" % L,
                            showarrow=False, xanchor="left", yanchor="middle",
                            font=dict(family=FONT, size=70, color=BLACK)))

fig = go.Figure(data=traces)
fig.update_layout(template="none", width=W, height=H, autosize=False,
                  margin=dict(l=0, r=0, t=0, b=0, pad=0, autoexpand=False),
                  paper_bgcolor="white", plot_bgcolor="rgba(0,0,0,0)", showlegend=False,
                  shapes=shapes, annotations=annotations, font=dict(family=FONT, color=BLACK),
                  **layout_axes)
fig.write_html("out.html", config={"displayModeBar": False})
